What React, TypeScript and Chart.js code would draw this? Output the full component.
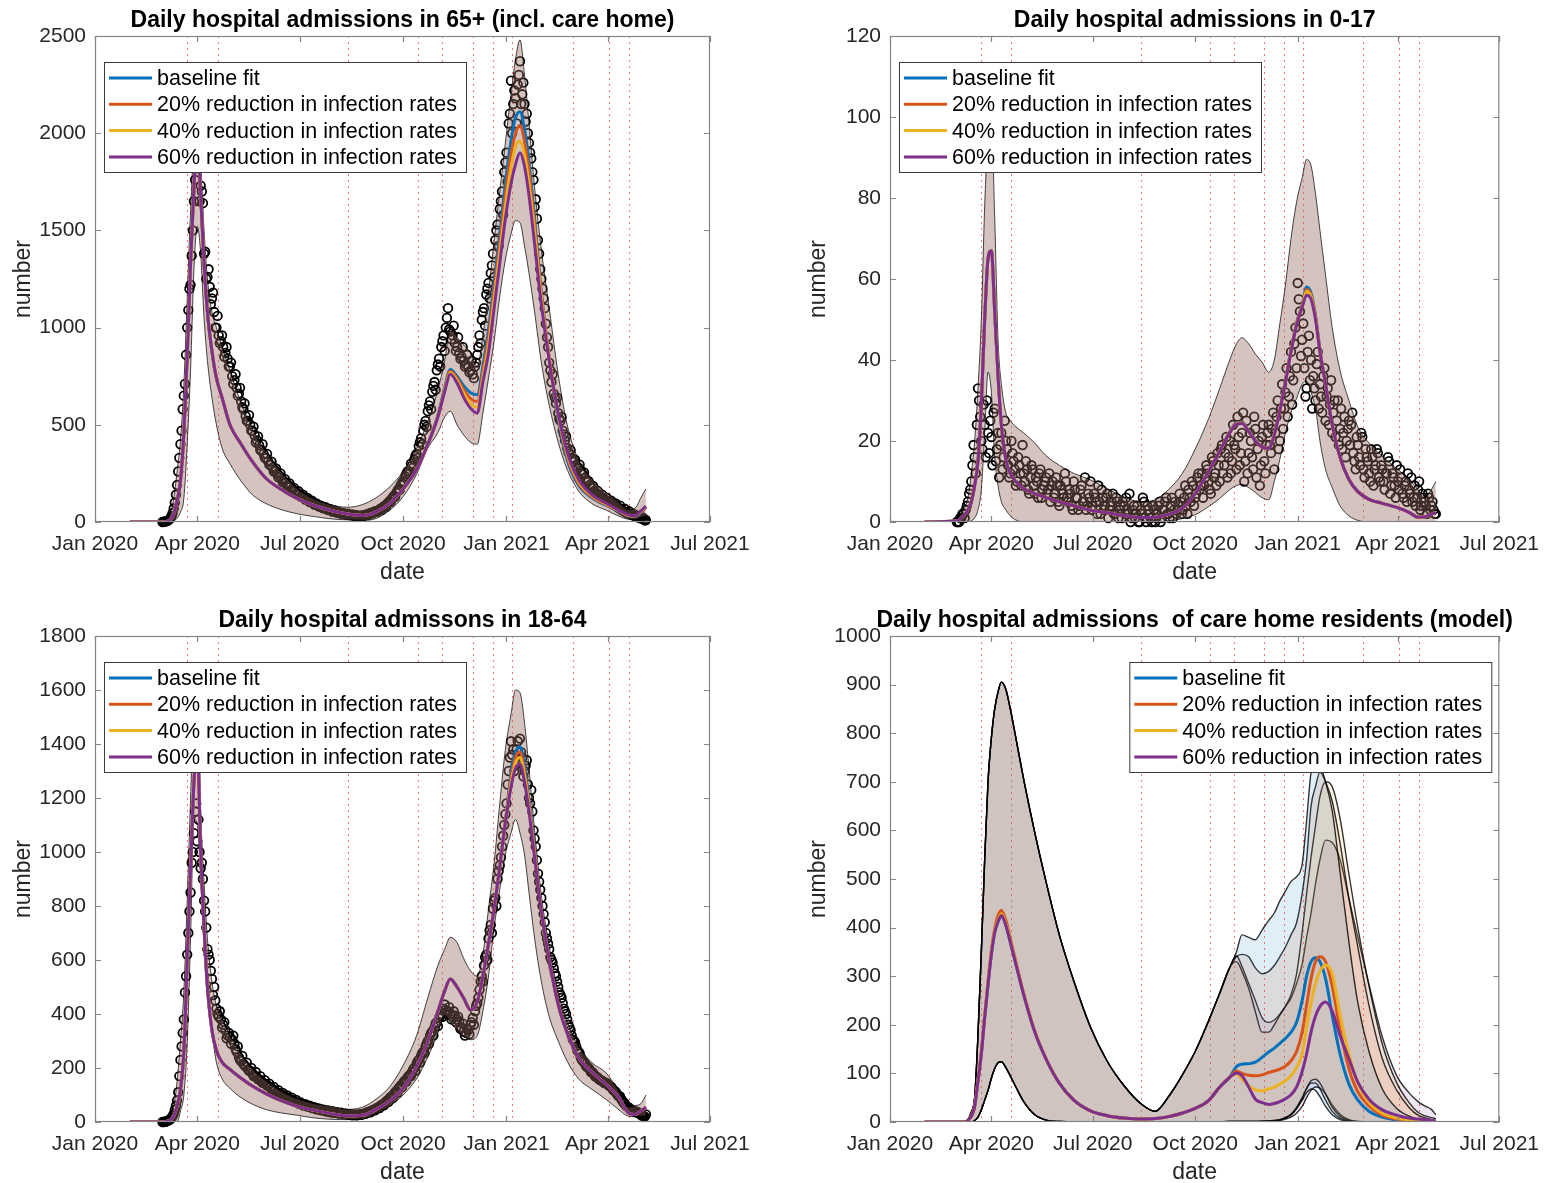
import React, { useEffect, useRef } from 'react';
import { Chart, registerables } from 'chart.js';

Chart.register(...registerables);

const FONT = '"Liberation Sans", Arial, Helvetica, sans-serif';
const INK = '#262626';

// ---------- axes / annotations ----------
const TICK_DAYS = [0, 91, 182, 274, 366, 456, 547]; // days since 1 Jan 2020
const TICK_LABELS = ['Jan 2020', 'Apr 2020', 'Jul 2020', 'Oct 2020', 'Jan 2021', 'Apr 2021', 'Jul 2021'];
const EVENT_DAYS = [82, 109, 225, 287, 309, 336, 354, 371, 425, 457, 475];

const SERIES_NAMES = [
  'baseline fit',
  '20% reduction in infection rates',
  '40% reduction in infection rates',
  '60% reduction in infection rates',
];
const SERIES_COLORS = ['#0072BD', '#D95319', '#EDB120', '#7E2F8E'];

// ---------- model curve sample days ----------
const DAYS = [
  31, 60, 66, 70, 73, 76, 79, 82, 85, 88,
  91, 94, 97, 100, 104, 108, 113, 120, 130, 140,
  152, 165, 180, 195, 210, 225, 238, 250, 262, 274,
  286, 296, 305, 311, 316, 322, 328, 334, 340, 345,
  350, 355, 360, 365, 370, 374, 378, 382, 386, 391,
  397, 404, 412, 420, 430, 442, 455, 466, 474, 480,
  486, 490,
];

// ---------- 65+ ----------
const A65_BASE = [
  0, 0, 8, 40, 110, 210, 450, 850, 1330, 1720,
  1950, 1680, 1330, 1080, 880, 740, 640, 500, 400, 310,
  225, 170, 120, 85, 59, 41, 33, 52, 95, 170,
  270, 400, 550, 690, 785, 750, 700, 665, 655, 800,
  990, 1230, 1480, 1740, 1960, 2080, 2110, 2020, 1850, 1560,
  1180, 840, 530, 320, 190, 125, 85, 55, 32, 28,
  50, 75,
];
const A65_R20 = [
  0, 0, 8, 40, 110, 210, 450, 850, 1330, 1720,
  1950, 1680, 1330, 1080, 880, 740, 640, 500, 400, 310,
  225, 170, 120, 85, 59, 41, 33, 52, 95, 170,
  270, 400, 545, 680, 775, 740, 680, 635, 620, 770,
  950, 1190, 1430, 1680, 1890, 2000, 2040, 1960, 1800, 1530,
  1170, 845, 545, 335, 200, 130, 88, 57, 34, 30,
  54, 78,
];
const A65_R40 = [
  0, 0, 8, 40, 110, 210, 450, 850, 1330, 1720,
  1950, 1680, 1330, 1080, 880, 740, 640, 500, 400, 310,
  225, 170, 120, 85, 59, 41, 33, 52, 95, 170,
  270, 400, 542, 675, 768, 728, 662, 610, 590, 745,
  910, 1150, 1380, 1620, 1820, 1930, 1960, 1890, 1740, 1490,
  1150, 840, 552, 348, 210, 135, 92, 58, 36, 31,
  57, 80,
];
const A65_R60 = [
  0, 0, 8, 40, 110, 210, 450, 850, 1330, 1720,
  1950, 1680, 1330, 1080, 880, 740, 640, 500, 400, 310,
  225, 170, 120, 85, 59, 41, 33, 52, 95, 170,
  270, 400, 540, 670, 760, 715, 640, 585, 560, 720,
  870, 1100, 1330, 1560, 1740, 1840, 1900, 1830, 1680, 1430,
  1120, 830, 560, 360, 220, 140, 95, 60, 38, 32,
  60, 82,
];
const A65_UPPER = [
  0, 2, 30, 120, 260, 420, 700, 1150, 1600, 1950,
  2080, 1850, 1500, 1250, 1080, 1000, 900, 780, 610, 480,
  360, 260, 170, 118, 88, 76, 90, 125, 180, 260,
  380, 516, 680, 830, 990, 950, 910, 870, 800, 960,
  1180, 1450, 1700, 1950, 2200, 2380, 2480, 2300, 2050, 1720,
  1400, 1100, 760, 500, 320, 220, 150, 100, 65, 70,
  130, 170,
];
const A65_LOWER = [
  0, 0, 0, 5, 20, 50, 120, 400, 780, 1300,
  1520, 1380, 1050, 830, 640, 500, 380, 300, 210, 140,
  95, 65, 42, 28, 16, 11, 9, 18, 60, 130,
  245, 380, 460, 540, 570, 500, 447, 410, 400, 560,
  740, 930, 1160, 1350, 1480, 1550, 1540, 1420, 1280, 1080,
  820, 600, 410, 270, 160, 95, 60, 30, 15, 14,
  25, 30,
];

// ---------- 0-17 ----------
const A17_BASE = [
  0, 0.3, 1.5, 3, 5, 9, 15, 29, 50, 65,
  67, 52, 36, 24, 15.5, 12, 10, 8.3, 7, 6,
  5, 4, 2.9, 2.3, 1.6, 1.1, 1.2, 1.9, 3.3, 7,
  12.5, 17.5, 22.3, 24.5, 24.6, 22.5, 20.2, 18.7, 18.4, 21.8,
  27.8, 35, 42.5, 49.2, 53.5, 58, 56.5, 51, 42.5, 34.2,
  24, 16, 10.5, 7.5, 5.6, 4.6, 3.6, 2.4, 1.2, 1.3,
  1.9, 2.4,
];
const A17_R20 = [
  0, 0.3, 1.5, 3, 5, 9, 15, 29, 50, 65,
  67, 52, 36, 24, 15.5, 12, 10, 8.3, 7, 6,
  5, 4, 2.9, 2.3, 1.6, 1.1, 1.2, 1.9, 3.3, 7,
  12.5, 17.5, 22.2, 24.4, 24.5, 22.4, 20.1, 18.6, 18.3, 21.7,
  27.7, 34.8, 42.3, 49, 53.3, 57.5, 56, 50.7, 42.3, 34.1,
  24, 16, 10.5, 7.5, 5.6, 4.6, 3.6, 2.4, 1.2, 1.3,
  1.9, 2.4,
];
const A17_R40 = [
  0, 0.3, 1.5, 3, 5, 9, 15, 29, 50, 65,
  67, 52, 36, 24, 15.5, 12, 10, 8.3, 7, 6,
  5, 4, 2.9, 2.3, 1.6, 1.1, 1.2, 1.9, 3.3, 7,
  12.5, 17.5, 22.1, 24.3, 24.4, 22.3, 20, 18.5, 18.2, 21.6,
  27.6, 34.6, 42.1, 48.7, 53.1, 57, 55.6, 50.3, 42.1, 34,
  24, 16, 10.5, 7.5, 5.6, 4.6, 3.6, 2.4, 1.2, 1.3,
  1.9, 2.4,
];
const A17_R60 = [
  0, 0.3, 1.5, 3, 5, 9, 15, 29, 50, 65,
  67, 52, 36, 24, 15.5, 12, 10, 8.3, 7, 6,
  5, 4, 2.9, 2.3, 1.6, 1.1, 1.2, 1.9, 3.3, 7,
  12.5, 17.5, 22, 24.2, 24.3, 22.3, 20, 18.5, 18.2, 21.5,
  27.5, 34.5, 42, 48.5, 53, 56, 55, 50, 42, 34,
  24, 16, 10.5, 7.5, 5.6, 4.6, 3.6, 2.4, 1.2, 1.3,
  1.9, 2.4,
];
const A17_UPPER = [
  0, 0.5, 3, 6, 12, 20, 33, 50, 78, 95,
  98, 75, 45, 34, 27, 25, 23.5, 22, 19.5, 16.4,
  14, 12, 10.4, 8.2, 6.2, 5, 5.5, 8, 11.8, 18,
  25.5, 33, 40, 44, 45.5, 44, 41.5, 39.5, 37, 40,
  49, 58.5, 70, 79, 85, 89.5, 88, 81, 72, 61,
  48, 37.5, 30, 23.5, 19.5, 16.2, 13.2, 10.5, 8, 6,
  8, 10,
];
const A17_LOWER = [
  0, 0, 0, 0, 0.3, 1, 3, 8, 22, 37,
  32, 16, 9, 5, 3, 1.5, 0.5, 0, 0, 0,
  0, 0, 0, 0, 0, 0, 0, 0.3, 0.8, 1.8,
  3.8, 5.8, 8, 9, 9.3, 8.5, 7.3, 6, 5.5, 10,
  15.5, 22, 27, 30.5, 34, 34.8, 32, 28, 20, 13,
  8.5, 4, 1.5, 0.4, 0, 0, 0, 0, 0, 0,
  0, 0,
];

// ---------- 18-64 ----------
const A64_BASE = [
  0, 0, 5, 21, 60, 120, 259, 600, 930, 1259,
  1400, 1000, 720, 500, 340, 265, 222, 195, 162, 133,
  105, 80, 58, 43, 31, 23, 25, 47, 78, 125,
  205, 300, 410, 485, 530, 500, 458, 415, 445, 540,
  660, 790, 946, 1110, 1290, 1370, 1390, 1320, 1190, 1010,
  790, 600, 435, 330, 240, 185, 138, 90, 35, 28,
  42, 55,
];
const A64_R20 = [
  0, 0, 5, 21, 60, 120, 259, 600, 930, 1259,
  1400, 1000, 720, 500, 340, 265, 222, 195, 162, 133,
  105, 80, 58, 43, 31, 23, 25, 47, 78, 125,
  205, 300, 410, 485, 530, 500, 458, 415, 445, 540,
  660, 790, 946, 1110, 1270, 1350, 1370, 1300, 1175, 1000,
  785, 600, 435, 330, 240, 185, 138, 90, 35, 28,
  42, 55,
];
const A64_R40 = [
  0, 0, 5, 21, 60, 120, 259, 600, 930, 1259,
  1400, 1000, 720, 500, 340, 265, 222, 195, 162, 133,
  105, 80, 58, 43, 31, 23, 25, 47, 78, 125,
  205, 300, 410, 485, 530, 500, 458, 415, 445, 540,
  660, 790, 946, 1110, 1255, 1330, 1350, 1285, 1165, 990,
  782, 600, 435, 330, 240, 185, 138, 90, 35, 28,
  42, 55,
];
const A64_R60 = [
  0, 0, 5, 21, 60, 120, 259, 600, 930, 1259,
  1400, 1000, 720, 500, 340, 265, 222, 195, 162, 133,
  105, 80, 58, 43, 31, 23, 25, 47, 78, 125,
  205, 300, 410, 485, 530, 500, 458, 415, 445, 540,
  660, 790, 946, 1110, 1240, 1310, 1325, 1260, 1150, 980,
  780, 600, 435, 330, 240, 185, 138, 90, 35, 28,
  42, 55,
];
const A64_UPPER = [
  0, 0, 15, 60, 150, 300, 480, 820, 1200, 1550,
  1620, 1150, 884, 680, 520, 430, 380, 320, 250, 195,
  152, 115, 86, 68, 58, 47, 55, 85, 130, 209,
  320, 460, 580, 640, 684, 665, 605, 560, 540, 620,
  790, 960, 1180, 1380, 1510, 1600, 1590, 1480, 1310, 1080,
  840, 650, 480, 370, 280, 220, 180, 112, 55, 60,
  70, 100,
];
const A64_LOWER = [
  0, 0, 0, 0, 0, 40, 100, 290, 680, 1120,
  1100, 900, 680, 480, 330, 220, 160, 125, 90, 66,
  46, 34, 25, 15, 10, 9, 11, 30, 58, 100,
  160, 240, 330, 395, 370, 340, 318, 305, 320, 410,
  540, 720, 860, 990, 1070, 1120, 1070, 990, 850, 680,
  520, 390, 300, 225, 160, 121, 82, 45, 22, 20,
  22, 25,
];

// ---------- care home residents (model) ----------
const ACH_BASE = [
  0, 0, 0, 3, 12, 32, 85, 140, 215, 283,
  345, 390, 412, 425, 405, 370, 325, 262, 185, 130,
  80, 45, 23, 13, 8, 6, 7, 11, 18, 28,
  44, 72, 92, 114, 119, 120, 123, 133, 144, 152,
  162, 172, 185, 205, 250, 300, 330, 338, 330, 295,
  220, 140, 78, 45, 22, 10, 4, 2, 1, 1,
  1, 1,
];
const ACH_R20 = [
  0, 0, 0, 3, 12, 33, 88, 145, 220, 290,
  352, 398, 425, 435, 415, 378, 330, 265, 187, 131,
  80, 45, 23, 13, 8, 6, 7, 11, 18, 28,
  44, 72, 92, 105, 100, 96, 95, 97, 102, 105,
  109, 115, 126, 145, 185, 240, 295, 330, 340, 330,
  280, 190, 110, 62, 33, 14, 6, 3, 2, 1,
  1, 1,
];
const ACH_R40 = [
  0, 0, 0, 3, 12, 32, 86, 142, 217, 286,
  348, 393, 415, 428, 408, 372, 327, 263, 186, 130,
  80, 45, 23, 13, 8, 6, 7, 11, 18, 28,
  44, 72, 92, 100, 88, 75, 66, 64, 68, 72,
  78, 85, 95, 112, 140, 195, 245, 285, 310, 323,
  305, 220, 140, 80, 40, 18, 8, 4, 2, 1,
  1, 1,
];
const ACH_R60 = [
  0, 0, 0, 3, 12, 32, 85, 140, 215, 283,
  345, 390, 412, 425, 405, 370, 325, 262, 185, 130,
  80, 45, 23, 13, 8, 6, 7, 11, 18, 28,
  44, 72, 92, 101, 95, 72, 47, 40, 36, 38,
  42, 48, 56, 72, 104, 140, 185, 218, 238, 247,
  228, 178, 130, 82, 47, 25, 14, 8, 6, 5,
  3, 2,
];
const ACH_UPPER_BASE = [
  0, 0, 0, 5, 20, 50, 180, 350, 540, 700,
  790, 850, 885, 905, 890, 850, 790, 705, 595, 495,
  385, 290, 195, 125, 75, 38, 22, 52, 95, 145,
  208, 265, 318, 350, 385, 380, 375, 395, 415, 430,
  455, 475, 495, 505, 530, 620, 720, 750, 735, 700,
  640, 515, 370, 245, 145, 68, 28, 12, 6, 4,
  2, 1,
];
const ACH_UPPER_R20 = [
  0, 0, 0, 5, 20, 50, 180, 350, 540, 700,
  790, 850, 885, 905, 890, 850, 790, 705, 595, 495,
  385, 290, 195, 125, 75, 38, 22, 52, 95, 145,
  208, 265, 318, 340, 345, 340, 317, 305, 310, 322,
  340, 360, 385, 410, 470, 540, 650, 690, 720, 700,
  660, 575, 460, 360, 240, 130, 65, 30, 14, 9,
  5, 3,
];
const ACH_UPPER_R40 = [
  0, 0, 0, 5, 20, 50, 180, 350, 540, 700,
  790, 850, 885, 905, 890, 850, 790, 705, 595, 495,
  385, 290, 195, 125, 75, 38, 22, 52, 95, 145,
  208, 265, 318, 330, 310, 275, 227, 185, 185, 200,
  220, 238, 262, 305, 390, 470, 545, 610, 670, 700,
  690, 625, 510, 400, 280, 160, 80, 40, 20, 13,
  9, 7,
];
const ACH_UPPER_R60 = [
  0, 0, 0, 5, 20, 50, 180, 350, 540, 700,
  790, 850, 885, 905, 890, 850, 790, 705, 595, 495,
  385, 290, 195, 125, 75, 38, 22, 52, 95, 145,
  208, 265, 318, 342, 320, 285, 250, 215, 205, 210,
  222, 238, 255, 285, 325, 380, 430, 490, 540, 580,
  575, 540, 460, 380, 283, 175, 95, 60, 42, 33,
  26, 15,
];
const ACH_LOWER_BASE = [
  0, 0, 0, 0, 0, 3, 10, 25, 45, 65,
  90, 110, 122, 124, 112, 95, 72, 42, 15, 4,
  1, 0, 0, 0, 0, 0, 0, 0, 0, 0,
  0, 0.5, 1, 1, 1, 1, 1, 1.5, 2, 3,
  5, 9, 16, 28, 45, 60, 68, 65, 52, 32,
  15, 5, 1, 0, 0, 0, 0, 0, 0, 0,
  0, 0,
];
const ACH_LOWER_R20 = [
  0, 0, 0, 0, 0, 3, 10, 25, 45, 65,
  90, 110, 122, 124, 112, 95, 72, 42, 15, 4,
  1, 0, 0, 0, 0, 0, 0, 0, 0, 0,
  0, 0.5, 1, 1, 1, 1, 1, 1.5, 2, 3,
  5, 9, 16, 30, 50, 68, 80, 80, 68, 45,
  22, 8, 2, 0, 0, 0, 0, 0, 0, 0,
  0, 0,
];
const ACH_LOWER_R40 = [
  0, 0, 0, 0, 0, 3, 10, 25, 45, 65,
  90, 110, 122, 124, 112, 95, 72, 42, 15, 4,
  1, 0, 0, 0, 0, 0, 0, 0, 0, 0,
  0, 0.5, 1, 1, 1, 1, 1, 1.5, 2, 2.5,
  4, 8, 14, 27, 48, 70, 85, 88, 80, 58,
  30, 12, 3, 1, 0, 0, 0, 0, 0, 0,
  0, 0,
];
const ACH_LOWER_R60 = [
  0, 0, 0, 0, 0, 3, 10, 25, 45, 65,
  90, 110, 122, 124, 112, 95, 72, 42, 15, 4,
  1, 0, 0, 0, 0, 0, 0, 0, 0, 0,
  0, 0.5, 1, 1, 1, 1, 1, 1.5, 1.5, 2,
  3, 6, 10, 18, 32, 50, 65, 72, 70, 58,
  35, 16, 5, 1, 0, 0, 0, 0, 0, 0,
  0, 0,
];

// ---------- observed admissions: even days ----------
const OBS_DAYS_EVEN = [
  60, 62, 64, 66, 68, 70, 72, 74, 76, 78,
  80, 82, 84, 86, 88, 90, 92, 94, 96, 98,
  100, 102, 104, 106, 108, 110, 112, 114, 116, 118,
  120, 122, 124, 126, 128, 130, 132, 134, 136, 138,
  140, 142, 144, 146, 148, 150, 152, 154, 156, 158,
  160, 162, 164, 166, 168, 170, 172, 174, 176, 178,
  180, 182, 184, 186, 188, 190, 192, 194, 196, 198,
  200, 202, 204, 206, 208, 210, 212, 214, 216, 218,
  220, 222, 224, 226, 228, 230, 232, 234, 236, 238,
  240, 242, 244, 246, 248, 250, 252, 254, 256, 258,
  260, 262, 264, 266, 268, 270, 272, 274, 276, 278,
  280, 282, 284, 286, 288, 290, 292, 294, 296, 298,
  300, 302, 304, 306, 308, 310, 312, 314, 316, 318,
  320, 322, 324, 326, 328, 330, 332, 334, 336, 338,
  340, 342, 344, 346, 348, 350, 352, 354, 356, 358,
  360, 362, 364, 366, 368, 370, 372, 374, 376, 378,
  380, 382, 384, 386, 388, 390, 392, 394, 396, 398,
  400, 402, 404, 406, 408, 410, 412, 414, 416, 418,
  420, 422, 424, 426, 428, 430, 432, 434, 436, 438,
  440, 442, 444, 446, 448, 450, 452, 454, 456, 458,
  460, 462, 464, 466, 468, 470, 472, 474, 476, 478,
  480, 482, 484, 486, 488, 490,
];
// ---------- observed admissions: odd days ----------
const OBS_DAYS_ODD = [
  61, 63, 65, 67, 69, 71, 73, 75, 77, 79,
  81, 83, 85, 87, 89, 91, 93, 95, 97, 99,
  101, 103, 105, 107, 109, 111, 113, 115, 117, 119,
  121, 123, 125, 127, 129, 131, 133, 135, 137, 139,
  141, 143, 145, 147, 149, 151, 153, 155, 157, 159,
  161, 163, 165, 167, 169, 171, 173, 175, 177, 179,
  181, 183, 185, 187, 189, 191, 193, 195, 197, 199,
  201, 203, 205, 207, 209, 211, 213, 215, 217, 219,
  221, 223, 225, 227, 229, 231, 233, 235, 237, 239,
  241, 243, 245, 247, 249, 251, 253, 255, 257, 259,
  261, 263, 265, 267, 269, 271, 273, 275, 277, 279,
  281, 283, 285, 287, 289, 291, 293, 295, 297, 299,
  301, 303, 305, 307, 309, 311, 313, 315, 317, 319,
  321, 323, 325, 327, 329, 331, 333, 335, 337, 339,
  341, 343, 345, 347, 349, 351, 353, 355, 357, 359,
  361, 363, 365, 367, 369, 371, 373, 375, 377, 379,
  381, 383, 385, 387, 389, 391, 393, 395, 397, 399,
  401, 403, 405, 407, 409, 411, 413, 415, 417, 419,
  421, 423, 425, 427, 429, 431, 433, 435, 437, 439,
  441, 443, 445, 447, 449, 451, 453, 455, 457, 459,
  461, 463, 465, 467, 469, 471, 473, 475, 477, 479,
  481, 483, 485, 487, 489,
];

const OBS_65_EVEN = [
  0, 2, 5, 12, 30, 70, 140, 260, 400, 580,
  710, 1000, 1200, 1370, 1650, 1900, 1820, 1730, 1640, 1390,
  1260, 1210, 1150, 1080, 1000, 960, 930, 900, 870, 840,
  800, 750, 730, 690, 660, 620, 580, 545, 520, 500,
  470, 445, 420, 395, 370, 350, 330, 312, 295, 280,
  265, 250, 238, 222, 210, 200, 190, 180, 168, 158,
  150, 140, 132, 125, 118, 112, 105, 98, 92, 86,
  80, 76, 72, 68, 64, 60, 56, 52, 48, 46,
  44, 42, 40, 38, 36, 34, 32, 30, 32, 34,
  36, 40, 44, 48, 52, 56, 60, 68, 76, 84,
  95, 108, 120, 135, 150, 170, 190, 210, 235, 260,
  260, 290, 320, 350, 390, 430, 470, 520, 570, 620,
  670, 720, 780, 840, 900, 960, 1000, 1100, 980, 960,
  920, 900, 870, 850, 830, 810, 800, 780, 760, 800,
  860, 960, 1040, 1100, 1170, 1230, 1280, 1380, 1450, 1530,
  1610, 1700, 1800, 1900, 2050, 2270, 2150, 2180, 2250, 2370,
  2200, 2150, 2100, 1950, 1870, 1760, 1660, 1450, 1300, 1200,
  1100, 950, 820, 720, 660, 610, 560, 520, 470, 420,
  380, 350, 330, 310, 290, 280, 265, 245, 225, 205,
  190, 175, 160, 150, 140, 130, 122, 115, 108, 102,
  96, 88, 80, 72, 64, 57, 50, 45, 40, 35,
  30, 26, 22, 18, 14, 10,
];
const OBS_65_ODD = [
  1, 3, 8, 20, 45, 100, 190, 330, 470, 650,
  860, 1090, 1220, 1500, 1760, 1880, 1650, 1700, 1380, 1250,
  1300, 1120, 1180, 1000, 1060, 920, 960, 850, 900, 800,
  820, 710, 760, 650, 690, 590, 610, 520, 550, 470,
  490, 410, 440, 370, 400, 330, 350, 295, 310, 260,
  275, 230, 250, 205, 220, 185, 198, 165, 175, 148,
  158, 130, 140, 116, 124, 102, 110, 90, 96, 80,
  84, 70, 76, 62, 67, 54, 60, 48, 52, 42,
  46, 38, 43, 35, 39, 31, 35, 28, 33, 30,
  38, 36, 46, 44, 55, 52, 64, 62, 80, 78,
  100, 102, 128, 130, 160, 165, 200, 205, 248, 250,
  300, 280, 340, 330, 410, 400, 500, 490, 600, 580,
  700, 680, 810, 800, 930, 880, 1050, 990, 940, 1010,
  880, 950, 840, 900, 800, 860, 770, 830, 740, 820,
  900, 920, 1080, 1010, 1200, 1150, 1320, 1260, 1500, 1420,
  1650, 1580, 1850, 1750, 2100, 2000, 2220, 2050, 2300, 2150,
  2260, 2060, 2000, 1900, 1800, 1620, 1560, 1380, 1250, 1150,
  1020, 900, 780, 760, 640, 640, 530, 540, 450, 440,
  360, 370, 310, 320, 275, 295, 250, 255, 215, 210,
  180, 185, 155, 160, 135, 140, 118, 125, 104, 110,
  90, 95, 76, 84, 60, 68, 48, 55, 38, 42,
  28, 32, 20, 24, 8,
];
const OBS_17_EVEN = [
  0, 0, 1, 2, 3, 5, 8, 14, 16, 24,
  30, 20, 29, 16, 22, 25, 14, 28, 18, 11,
  22, 16, 20, 14, 12, 17, 13, 10, 14, 9,
  12, 15, 8, 11, 13, 7, 10, 12, 6, 9,
  11, 8, 5, 10, 7, 9, 4, 8, 6, 10,
  5, 7, 3, 8, 6, 4, 9, 5, 3, 7,
  10, 4, 6, 2, 5, 8, 3, 6, 1, 4,
  7, 2, 5, 3, 1, 4, 6, 2, 0, 3,
  1, 4, 0, 2, 5, 0, 3, 1, 4, 0,
  2, 5, 1, 3, 6, 2, 4, 1, 5, 3,
  7, 2, 6, 4, 8, 5, 9, 6, 11, 8,
  12, 9, 14, 10, 7, 15, 12, 17, 10, 19,
  14, 21, 16, 12, 24, 18, 26, 14, 22, 10,
  25, 17, 20, 13, 23, 18, 9, 21, 15, 19,
  24, 17, 27, 22, 30, 20, 34, 28, 38, 31,
  42, 35, 48, 59, 52, 45, 38, 33, 46, 40,
  36, 30, 42, 34, 27, 38, 31, 24, 35, 27,
  21, 30, 23, 18, 26, 20, 25, 24, 17, 13,
  19, 14, 21, 11, 16, 12, 18, 9, 14, 17,
  10, 13, 8, 12, 15, 9, 11, 6, 10, 13,
  7, 9, 5, 8, 11, 6, 4, 8, 3, 7,
  5, 2, 6, 4, 3, 2,
];
const OBS_17_ODD = [
  0, 1, 2, 1, 4, 7, 10, 19, 12, 33,
  26, 18, 24, 30, 17, 21, 27, 15, 22, 19,
  13, 25, 18, 11, 20, 15, 9, 16, 12, 19,
  10, 13, 7, 14, 9, 11, 6, 13, 8, 10,
  7, 12, 9, 6, 11, 5, 9, 7, 12, 6,
  8, 4, 10, 6, 3, 8, 5, 11, 4, 6,
  3, 7, 5, 9, 2, 6, 4, 7, 3, 5,
  2, 6, 1, 4, 5, 2, 3, 7, 1, 4,
  2, 0, 3, 6, 1, 4, 2, 0, 3, 1,
  4, 0, 3, 5, 2, 1, 6, 3, 2, 4,
  5, 3, 9, 2, 6, 10, 4, 7, 12, 9,
  6, 11, 13, 8, 16, 11, 9, 14, 18, 12,
  17, 11, 20, 15, 19, 13, 21, 17, 27, 15,
  12, 22, 16, 26, 11, 20, 14, 24, 12, 22,
  19, 23, 13, 26, 18, 28, 23, 32, 26, 36,
  29, 44, 38, 55, 41, 49, 31, 42, 35, 28,
  33, 39, 28, 31, 36, 25, 33, 29, 22, 30,
  25, 19, 28, 22, 16, 23, 19, 27, 15, 21,
  16, 22, 13, 18, 15, 10, 16, 13, 18, 11,
  14, 10, 12, 16, 7, 12, 9, 14, 8, 11,
  6, 10, 12, 7, 5, 9, 6, 10, 4, 6,
  4, 7, 3, 5, 2,
];
const OBS_64_EVEN = [
  0, 1, 3, 8, 15, 30, 60, 110, 230, 330,
  480, 620, 780, 960, 1070, 1180, 1120, 940, 900, 780,
  640, 600, 530, 500, 420, 390, 380, 360, 340, 320,
  315, 305, 290, 260, 240, 225, 215, 205, 195, 190,
  180, 172, 165, 158, 150, 145, 140, 134, 128, 122,
  116, 110, 106, 102, 97, 92, 88, 84, 80, 76,
  72, 68, 65, 62, 60, 57, 55, 52, 50, 48,
  46, 44, 42, 40, 38, 36, 35, 34, 33, 32,
  31, 30, 29, 28, 27, 27, 26, 27, 28, 30,
  32, 35, 38, 42, 46, 50, 55, 60, 66, 72,
  80, 88, 96, 105, 115, 125, 135, 145, 155, 165,
  175, 185, 200, 215, 230, 245, 260, 280, 300, 320,
  335, 350, 370, 385, 400, 420, 415, 410, 400, 390,
  395, 380, 370, 350, 335, 330, 340, 360, 385, 410,
  440, 490, 540, 580, 620, 680, 730, 790, 830, 900,
  950, 1020, 1100, 1180, 1300, 1410, 1380, 1320, 1410, 1420,
  1350, 1300, 1340, 1200, 1230, 1080, 1020, 920, 860, 800,
  740, 680, 640, 600, 570, 540, 500, 470, 440, 410,
  380, 350, 320, 300, 280, 260, 240, 225, 215, 205,
  195, 185, 175, 168, 160, 155, 150, 146, 140, 132,
  125, 115, 105, 96, 85, 72, 62, 55, 48, 44,
  40, 38, 32, 25, 22, 28,
];
const OBS_64_ODD = [
  0, 2, 5, 10, 22, 45, 80, 170, 280, 380,
  540, 700, 850, 1000, 1150, 1040, 1000, 960, 820, 720,
  620, 560, 470, 450, 400, 410, 350, 370, 310, 330,
  290, 320, 270, 280, 230, 245, 210, 220, 190, 200,
  170, 185, 158, 170, 145, 155, 135, 142, 122, 130,
  108, 118, 100, 108, 92, 98, 83, 90, 76, 82,
  68, 72, 62, 66, 57, 60, 52, 55, 47, 50,
  43, 46, 40, 42, 37, 39, 34, 36, 31, 34,
  29, 31, 27, 29, 25, 28, 25, 28, 27, 31,
  31, 37, 36, 44, 43, 52, 52, 63, 62, 76,
  75, 92, 90, 110, 108, 130, 128, 150, 150, 170,
  170, 195, 190, 225, 220, 255, 255, 290, 290, 330,
  320, 365, 355, 395, 390, 435, 400, 425, 380, 410,
  370, 390, 345, 365, 320, 345, 325, 370, 360, 430,
  460, 520, 520, 610, 600, 710, 700, 820, 800, 930,
  980, 1060, 1140, 1250, 1350, 1360, 1300, 1380, 1330, 1370,
  1280, 1320, 1250, 1180, 1150, 1050, 970, 890, 830, 770,
  700, 660, 610, 590, 550, 520, 480, 460, 420, 400,
  360, 340, 305, 295, 265, 255, 230, 222, 205, 200,
  185, 182, 168, 165, 155, 152, 144, 145, 135, 130,
  118, 112, 98, 95, 78, 70, 58, 53, 45, 42,
  36, 36, 28, 24, 20,
];

// ---------- panel definitions ----------
type Band = { lower: number[]; upper: number[]; color: string };
type PanelDef = {
  title: string;
  yMax: number;
  yStep: number;
  lines: number[][];
  bands: Band[];
  obsEven?: number[];
  obsOdd?: number[];
  edgeWidth: number;
  left: number;
  top: number;
  width: number;
  height: number;
  legendRight?: boolean;
};

const BAND_MIXED = 'rgba(150,105,97,0.4)';
const BAND_SCEN = [
  'rgba(0,114,189,0.12)',
  'rgba(217,83,25,0.12)',
  'rgba(237,177,32,0.12)',
  'rgba(126,47,142,0.12)',
];

const PANELS: PanelDef[] = [
  {
    title: 'Daily hospital admissions in 65+ (incl. care home)',
    yMax: 2500, yStep: 500,
    lines: [A65_BASE, A65_R20, A65_R40, A65_R60],
    bands: [{ lower: A65_LOWER, upper: A65_UPPER, color: BAND_MIXED }],
    obsEven: OBS_65_EVEN, obsOdd: OBS_65_ODD,
    edgeWidth: 0.9,
    left: 0, top: 0, width: 775, height: 600,
  },
  {
    title: 'Daily hospital admissions in 0-17',
    yMax: 120, yStep: 20,
    lines: [A17_BASE, A17_R20, A17_R40, A17_R60],
    bands: [{ lower: A17_LOWER, upper: A17_UPPER, color: BAND_MIXED }],
    obsEven: OBS_17_EVEN, obsOdd: OBS_17_ODD,
    edgeWidth: 0.9,
    left: 795, top: 0, width: 754, height: 600,
  },
  {
    title: 'Daily hospital admissons in 18-64',
    yMax: 1800, yStep: 200,
    lines: [A64_BASE, A64_R20, A64_R40, A64_R60],
    bands: [{ lower: A64_LOWER, upper: A64_UPPER, color: BAND_MIXED }],
    obsEven: OBS_64_EVEN, obsOdd: OBS_64_ODD,
    edgeWidth: 0.9,
    left: 0, top: 600, width: 775, height: 583,
  },
  {
    title: 'Daily hospital admissions  of care home residents (model)',
    yMax: 1000, yStep: 100,
    lines: [ACH_BASE, ACH_R20, ACH_R40, ACH_R60],
    bands: [
      { lower: ACH_LOWER_BASE, upper: ACH_UPPER_BASE, color: BAND_SCEN[0] },
      { lower: ACH_LOWER_R20, upper: ACH_UPPER_R20, color: BAND_SCEN[1] },
      { lower: ACH_LOWER_R40, upper: ACH_UPPER_R40, color: BAND_SCEN[2] },
      { lower: ACH_LOWER_R60, upper: ACH_UPPER_R60, color: BAND_SCEN[3] },
    ],
    edgeWidth: 1.4,
    left: 795, top: 600, width: 754, height: 583,
    legendRight: true,
  },
];

const toPoints = (days: number[], values: number[]) => days.map((d, i) => ({ x: d, y: values[i] }));

function makeDecor(p: PanelDef) {
  return {
    id: 'matlabDecor',
    beforeDatasetsDraw(chart: any) {
      const { ctx, chartArea: a, scales } = chart;
      ctx.save();
      ctx.beginPath();
      ctx.rect(a.left, a.top, a.right - a.left, a.bottom - a.top);
      ctx.clip();
      ctx.strokeStyle = 'rgba(255,70,70,0.75)';
      ctx.lineWidth = 1;
      ctx.setLineDash([2, 4]);
      EVENT_DAYS.forEach((d) => {
        const x = Math.round(scales.x.getPixelForValue(d)) + 0.5;
        ctx.beginPath();
        ctx.moveTo(x, a.top);
        ctx.lineTo(x, a.bottom);
        ctx.stroke();
      });
      ctx.restore();
    },
    afterDatasetsDraw(chart: any) {
      const { ctx, chartArea: a, scales } = chart;
      ctx.save();
      ctx.strokeStyle = '#858585';
      ctx.lineWidth = 1.2;
      ctx.strokeRect(a.left + 0.5, a.top + 0.5, a.right - a.left - 1, a.bottom - a.top - 1);
      const tl = 6;
      ctx.beginPath();
      TICK_DAYS.forEach((d) => {
        const px = Math.round(scales.x.getPixelForValue(d)) + 0.5;
        ctx.moveTo(px, a.bottom);
        ctx.lineTo(px, a.bottom - tl);
        ctx.moveTo(px, a.top);
        ctx.lineTo(px, a.top + tl);
      });
      scales.y.ticks.forEach((t: any) => {
        const py = Math.round(scales.y.getPixelForValue(t.value)) + 0.5;
        ctx.moveTo(a.left, py);
        ctx.lineTo(a.left + tl, py);
        ctx.moveTo(a.right, py);
        ctx.lineTo(a.right - tl, py);
      });
      ctx.stroke();
      ctx.restore();
    },
    afterDraw(chart: any) {
      const { ctx, chartArea: a } = chart;
      ctx.save();
      // title
      ctx.fillStyle = '#000';
      ctx.font = `bold 23px ${FONT}`;
      ctx.textAlign = 'center';
      ctx.textBaseline = 'middle';
      ctx.fillText(p.title, (a.left + a.right) / 2, a.top - 15);
      // legend
      const w = 362;
      const h = 110;
      const lx = p.legendRight ? a.right - 8 - w : a.left + 9;
      const ly = a.top + 26;
      ctx.fillStyle = '#ffffff';
      ctx.fillRect(lx, ly, w, h);
      ctx.strokeStyle = '#3a3a3a';
      ctx.lineWidth = 1;
      ctx.strokeRect(lx + 0.5, ly + 0.5, w, h);
      ctx.font = `21.5px ${FONT}`;
      ctx.textAlign = 'left';
      ctx.textBaseline = 'middle';
      SERIES_NAMES.forEach((name, i) => {
        const yy = ly + 16 + i * 26.3;
        ctx.strokeStyle = SERIES_COLORS[i];
        ctx.lineWidth = 3;
        ctx.beginPath();
        ctx.moveTo(lx + 5, yy);
        ctx.lineTo(lx + 48, yy);
        ctx.stroke();
        ctx.fillStyle = '#000';
        ctx.fillText(name, lx + 53, yy + 1);
      });
      ctx.restore();
    },
  };
}

function obsDataset(days: number[], vals: number[]) {
  return {
    label: 'data',
    data: toPoints(days, vals),
    showLine: false,
    pointRadius: 4.3,
    pointBorderWidth: 1.8,
    pointBorderColor: '#000',
    pointBackgroundColor: 'rgba(0,0,0,0)',
    fill: false,
    order: 10,
    clip: 8,
  };
}

function buildConfig(p: PanelDef): any {
  const datasets: any[] = [];
  if (p.obsEven) datasets.push(obsDataset(OBS_DAYS_EVEN, p.obsEven));
  if (p.obsOdd) datasets.push(obsDataset(OBS_DAYS_ODD, p.obsOdd));
  p.bands.forEach((b) => {
    datasets.push({
      data: toPoints(DAYS, b.lower),
      borderColor: 'rgba(0,0,0,0.8)',
      borderWidth: p.edgeWidth,
      pointRadius: 0,
      fill: false,
      cubicInterpolationMode: 'monotone',
      order: 5,
    });
    datasets.push({
      data: toPoints(DAYS, b.upper),
      borderColor: 'rgba(0,0,0,0.8)',
      borderWidth: p.edgeWidth,
      pointRadius: 0,
      fill: '-1',
      backgroundColor: b.color,
      cubicInterpolationMode: 'monotone',
      order: 5,
    });
  });
  p.lines.forEach((vals, i) => {
    datasets.push({
      label: SERIES_NAMES[i],
      data: toPoints(DAYS, vals),
      borderColor: SERIES_COLORS[i],
      borderWidth: 3,
      pointRadius: 0,
      fill: false,
      cubicInterpolationMode: 'monotone',
      order: 4 - i,
    });
  });

  const xAxisHeight = p.height - 522;
  const dateBottomPad = p.height === 600 ? 15.5 : -1.5;

  return {
    type: 'line',
    data: { datasets },
    plugins: [makeDecor(p)],
    options: {
      animation: false,
      responsive: false,
      maintainAspectRatio: false,
      events: [],
      layout: { padding: { left: 0, right: p.width - 710, top: 36, bottom: 0 } },
      plugins: { legend: { display: false }, tooltip: { enabled: false }, title: { display: false } },
      scales: {
        x: {
          type: 'linear',
          min: 0,
          max: 547,
          afterBuildTicks: (s: any) => {
            s.ticks = TICK_DAYS.map((v) => ({ value: v }));
          },
          afterFit: (s: any) => {
            s.height = xAxisHeight;
          },
          grid: { display: false, drawTicks: false },
          border: { display: false },
          ticks: {
            autoSkip: false,
            maxRotation: 0,
            minRotation: 0,
            padding: 10,
            color: INK,
            font: { family: FONT, size: 21 },
            callback: (v: any) => {
              const k = TICK_DAYS.indexOf(Number(v));
              return k >= 0 ? TICK_LABELS[k] : '';
            },
          },
          title: {
            display: true,
            text: 'date',
            color: INK,
            font: { family: FONT, size: 23, lineHeight: 1 },
            padding: { top: 0, bottom: dateBottomPad },
          },
        },
        y: {
          type: 'linear',
          min: 0,
          max: p.yMax,
          afterFit: (s: any) => {
            s.width = 95;
          },
          grid: { display: false, drawTicks: false },
          border: { display: false },
          ticks: {
            stepSize: p.yStep,
            padding: 9,
            color: INK,
            font: { family: FONT, size: 21 },
            callback: (v: any) => String(v),
          },
          title: {
            display: true,
            text: 'number',
            color: INK,
            font: { family: FONT, size: 23, lineHeight: 1 },
            padding: { top: 12, bottom: 0 },
          },
        },
      },
    },
  };
}

function Panel({ def }: { def: PanelDef }) {
  const ref = useRef<HTMLCanvasElement | null>(null);
  useEffect(() => {
    if (!ref.current) return;
    const chart = new Chart(ref.current, buildConfig(def));
    return () => chart.destroy();
  }, [def]);
  return (
    <canvas
      ref={ref}
      width={def.width}
      height={def.height}
      style={{ position: 'absolute', left: def.left, top: def.top, width: def.width, height: def.height }}
    />
  );
}

export default function App() {
  return (
    <div style={{ position: 'absolute', left: 0, top: 0, width: 1549, height: 1183, background: '#fff', overflow: 'hidden' }}>
      {PANELS.map((p, i) => (
        <Panel key={i} def={p} />
      ))}
    </div>
  );
}
